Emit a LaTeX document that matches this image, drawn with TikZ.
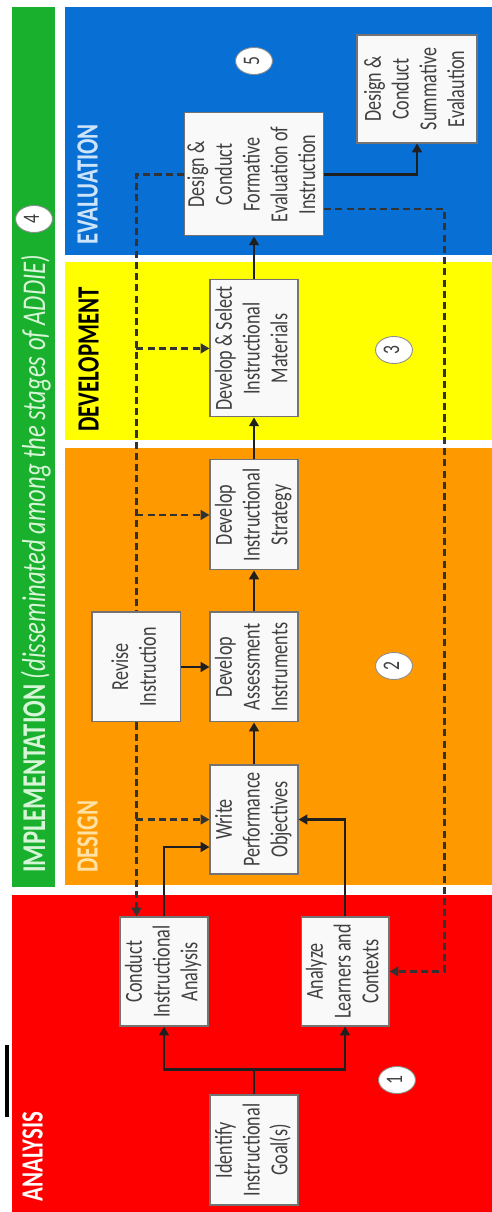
\documentclass[tikz,border=0pt]{standalone}
\usepackage{fontspec}
\setmainfont{Carlito}
\usepackage{graphicx}
\usepackage{xcolor}
\usepackage{tikz}
\usetikzlibrary{arrows.meta, positioning, calc, shapes.geometric}

\definecolor{anared}{RGB}{255,0,0}
\definecolor{desorange}{RGB}{255,153,0}
\definecolor{devyellow}{RGB}{255,255,0}
\definecolor{evalblue}{RGB}{8,112,212}
\definecolor{impgreen}{RGB}{24,176,44}
\definecolor{boxtext}{RGB}{64,64,64}

% upright text turned to read bottom-to-top, a bit widened
\newcommand{\vtxt}[1]{\scalebox{1.35}[1]{\rotatebox{90}{\begin{tabular}{@{}c@{}}#1\end{tabular}}}}

\begin{document}
\begin{tikzpicture}[
    x=0.02cm, y=-0.02cm,
    box/.style={rectangle, draw=black!55, fill=gray!5, line width=0.6pt, inner sep=0pt, minimum width=1.76cm, minimum height=2.2cm, text=boxtext, font=\fontsize{10.3}{11.7}\selectfont},
    stagenum/.style={ellipse, draw=black!45, fill=white, line width=0.5pt, minimum width=0.72cm, minimum height=0.54cm, inner sep=0pt, text=boxtext, font=\fontsize{10}{11}\selectfont},
    phase/.style={anchor=south, inner sep=0pt, font=\fontsize{13}{14}\selectfont\bfseries},
    arrow/.style={-{Triangle[length=5pt, width=5.5pt]}, line width=1.6pt, draw=black!88},
    line/.style={line width=1.6pt, draw=black!88},
    darrow/.style={-{Triangle[length=5pt, width=5.5pt]}, line width=1.5pt, dash pattern=on 4pt off 2.4pt, draw=black!80},
    dline/.style={line width=1.5pt, dash pattern=on 4pt off 2.4pt, draw=black!80}
]
\useasboundingbox (0,0) rectangle (492,1212);
\fill[white] (0,0) rectangle (492,1212);

% Stage bands
\fill[impgreen] (12,7) rectangle (55,887);
\fill[evalblue] (65,7) rectangle (492,255);
\fill[devyellow] (65,262) rectangle (492,440);
\fill[desorange] (65,448) rectangle (492,885);
\fill[anared] (12,895) rectangle (492,1212);
\fill[black] (5,1045) rectangle (9,1117);

% Stage titles
\node[phase, text=white] (t_analysis) at (36,1202) {\vtxt{ANALYSIS}};
\node[phase, text={rgb,255:red,255;green,226;blue,165}] (t_design) at (91,873) {\vtxt{DESIGN}};
\node[phase, text=black] (t_develop) at (92,432) {\vtxt{DEVELOPMENT}};
\node[phase, text={rgb,255:red,205;green,228;blue,250}] (t_eval) at (91,245) {\vtxt{EVALUATION}};
\node[phase, text={rgb,255:red,215;green,245;blue,215}, font=\fontsize{14}{15}\selectfont\bfseries] (t_impl) at (38,873) {\vtxt{IMPLEMENTATION \mdseries\itshape(disseminated among the stages of ADDIE)}};

% Stage numbers
\node[stagenum] (n1) at (397,1080) {\vtxt{1}};
\node[stagenum] (n2) at (394,666) {\vtxt{2}};
\node[stagenum] (n3) at (394,350) {\vtxt{3}};
\node[stagenum] (n4) at (34,219) {\vtxt{4}};
\node[stagenum] (n5) at (254,61) {\vtxt{5}};

% Analysis boxes
\node[box] (goal) at (254,1150) {\vtxt{Identify\\Instructional\\Goal(s)}};
\node[box, minimum height=2.18cm] (conduct) at (164,971.5) {\vtxt{Conduct\\Instructional\\Analysis}};
\node[box, minimum height=2.18cm, right=1.84cm of conduct] (learners) {\vtxt{Analyze\\Learners and\\Contexts}};

% Design / development / evaluation boxes
\node[box, minimum height=2.18cm] (write) at (254,819.5) {\vtxt{Write\\Performance\\Objectives}};
\node[box, above=0.84cm of write] (assess) {\vtxt{Develop\\Assessment\\Instruments}};
\node[box, minimum width=1.78cm, left=0.56cm of assess] (revise) {\vtxt{Revise\\Instruction}};
\node[box, above=0.82cm of assess] (strategy) {\vtxt{Develop\\Instructional\\Strategy}};
\node[box, minimum height=2.74cm, above=0.84cm of strategy] (materials) {\vtxt{Develop \& Select\\Instructional\\Materials}};
\node[box, minimum width=2.78cm, minimum height=2.46cm, above=0.86cm of materials] (formative) {\vtxt{Design \&\\Conduct\\Formative\\Evaluation of\\Instruction}};
\node[box, minimum width=2.4cm, minimum height=2.16cm] (summative) at (417,89) {\vtxt{Design \&\\Conduct\\Summative\\Evalaution}};

% Main flow
\coordinate (split) at ($(goal.north)+(0,-25)$);
\draw[line] (goal.north) -- (split);
\draw[arrow] (split) -| (conduct.south);
\draw[arrow] (split) -| (learners.south);
\draw[arrow] (conduct.north) |- ($(write.west)+(0,27.5)$);
\draw[arrow] (learners.north) |- (write.east);
\draw[arrow] (write) -- (assess);
\draw[arrow] (revise) -- (assess);
\draw[arrow] (assess) -- (strategy);
\draw[arrow] (strategy) -- (materials);
\draw[arrow] (materials) -- (formative);
\draw[arrow] (formative.east) -| (summative.south);

% Feedback from formative evaluation (dashed)
\draw[dline] (formative.west) -| (revise.north);
\draw[darrow] (revise.south) -- (revise.south |- conduct.north);
\draw[darrow] (revise.north |- materials.west) -- (materials.west);
\draw[darrow] (revise.north |- strategy.west) -- (strategy.west);
\draw[darrow] (revise.south |- write.west) -- (write.west);
\coordinate (fbout) at ($(formative.east)+(0,34.5)$);
\draw[darrow] (fbout) -| ($(learners.east)+(55,0)$) -- (learners.east);

\end{tikzpicture}
\end{document}
